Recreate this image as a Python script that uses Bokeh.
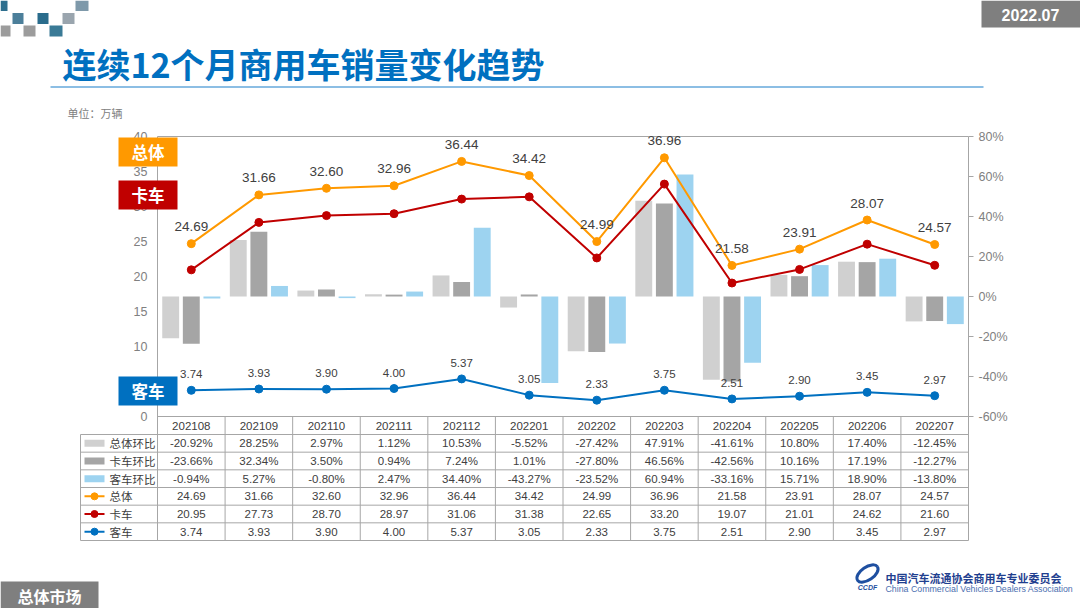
import numpy as np
from bokeh.plotting import figure
from bokeh.models import Range1d, LinearAxis, FixedTicker, PrintfTickFormatter
from bokeh.core.properties import value
from bokeh.embed import file_html
from bokeh.resources import INLINE

# ---------------- data ----------------
months = ["202108", "202109", "202110", "202111", "202112", "202201",
          "202202", "202203", "202204", "202205", "202206", "202207"]
total_mom = [-20.92, 28.25, 2.97, 1.12, 10.53, -5.52, -27.42, 47.91, -41.61, 10.80, 17.40, -12.45]
truck_mom = [-23.66, 32.34, 3.50, 0.94, 7.24, 1.01, -27.80, 46.56, -42.56, 10.16, 17.19, -12.27]
bus_mom = [-0.94, 5.27, -0.80, 2.47, 34.40, -43.27, -23.52, 60.94, -33.16, 15.71, 18.90, -13.80]
total = [24.69, 31.66, 32.60, 32.96, 36.44, 34.42, 24.99, 36.96, 21.58, 23.91, 28.07, 24.57]
truck = [20.95, 27.73, 28.70, 28.97, 31.06, 31.38, 22.65, 33.20, 19.07, 21.01, 24.62, 21.60]
bus = [3.74, 3.93, 3.90, 4.00, 5.37, 3.05, 2.33, 3.75, 2.51, 2.90, 3.45, 2.97]
row_names = ["总体环比", "卡车环比", "客车环比", "总体", "卡车", "客车"]
series_names = ["总体", "卡车", "客车"]
left_ticks = [0, 5, 10, 15, 20, 25, 30, 35, 40]
right_ticks = [-60, -40, -20, 0, 20, 40, 60, 80]
title_text = "连续12个月商用车销量变化趋势"
unit_text = "单位：万辆"
date_text = "2022.07"
section_text = "总体市场"
org_cn = "中国汽车流通协会商用车专业委员会"
org_en = "China Commercial Vehicles Dealers Association"

# ---------------- styles ----------------
C_TOTAL_MOM, C_TRUCK_MOM, C_BUS_MOM = "#D0D0D0", "#A5A5A5", "#9DD3F0"
C_TOTAL, C_TRUCK, C_BUS = "#FF9900", "#C00000", "#0070C0"
GRID = "#A6A6A6"
TXT = "#404040"
AXC = "#808080"
CJK = value("Noto Sans CJK SC")
NUM = value("Liberation Sans")

W, H = 1080, 608
AXL, AXR = 157, 968   # value axes (page px)
PT = 136              # plot top
Y0 = 416              # page y of value 0 / plot bottom
YP0 = 296             # page y of 0 %
PPU, PPP = 7.0, 2.0   # pixels per unit / per percent
n = len(months)
colw = (AXR - AXL) / n
TB_HEAD = 434         # bottom of table header row
TB_BOT = 540          # table bottom
rh = (TB_BOT - TB_HEAD) / len(row_names)
TB_LEFT = 80


def dx(px):
    return (px - AXL) / colw - 0.5


def dy(py):
    return (Y0 - py) / PPU


def pct(py):
    return (YP0 - py) / PPP


def sw(px):
    return px / colw


def sh(px):
    return px / PPU


idx = np.arange(n)

p = figure(width=W, height=H, output_backend="svg", toolbar_location=None,
           x_range=Range1d(dx(0), dx(W)), y_range=Range1d(dy(H), dy(0)),
           x_axis_location=None, y_axis_location=None,
           min_border_left=0, min_border_right=0, min_border_top=0, min_border_bottom=0)
p.outline_line_color = None
p.xgrid.visible = False
p.ygrid.visible = False
p.extra_y_ranges = {"pct": Range1d(pct(H), pct(0))}

# ---------------- header decorations ----------------
sq_l = [0, 75, 12, 37, 62, 0, 23, 49]
sq_r = [7, 88, 23, 48, 74, 10, 35, 62]
sq_t = [0, 0, 12.5, 12.5, 12.5, 25, 25, 25]
sq_b = [10.5, 10.5, 23.5, 23.5, 23.5, 36, 36, 36]
sq_c = ["#2E6F8E", "#7E99AA", "#4C7F9A", "#2A6C8C", "#9AA5AE", "#9C9C9C", "#9C9C9C", "#3A7A96"]
p.quad(left=[dx(v) for v in sq_l], right=[dx(v) for v in sq_r], top=[dy(v) for v in sq_t],
       bottom=[dy(v) for v in sq_b], fill_color=sq_c, line_color=None)
p.text(x=[dx(62)], y=[dy(63)], text=[title_text], text_font=CJK, text_font_style="bold",
       text_font_size="34px", text_color="#0070C0", text_baseline="middle", text_align="left")
p.segment(x0=[dx(50)], x1=[dx(983)], y0=[dy(86.5)], y1=[dy(86.5)], line_color="#8CBEE4", line_width=2)
p.quad(left=[dx(981)], right=[dx(1080)], top=[dy(0)], bottom=[dy(27)], fill_color="#7F7F7F", line_color=None)
p.text(x=[dx(1030)], y=[dy(14)], text=[date_text], text_font=NUM, text_font_style="bold",
       text_font_size="16px", text_color="white", text_baseline="middle", text_align="center")
p.text(x=[dx(67)], y=[dy(112)], text=[unit_text], text_font=CJK, text_font_size="11px",
       text_color=AXC, text_baseline="middle", text_align="left")

# ---------------- axes ----------------
lax = LinearAxis(fixed_location=-0.5, ticker=FixedTicker(ticks=left_ticks))
rax = LinearAxis(fixed_location=n - 0.5, y_range_name="pct", ticker=FixedTicker(ticks=right_ticks),
                 formatter=PrintfTickFormatter(format="%d%%"))
for ax in (lax, rax):
    ax.axis_line_color = None
    ax.major_tick_line_color = GRID
    ax.minor_tick_line_color = None
    ax.major_tick_in = 0
    ax.major_label_text_font = "Liberation Sans"
    ax.major_label_text_font_size = "12.5px"
    ax.major_label_text_color = AXC
lax.major_tick_out = 0
lax.major_label_standoff = 10
rax.major_tick_out = 5
rax.major_label_standoff = 5
p.add_layout(lax, "left")
p.add_layout(rax, "right")

# plot box and table grid
p.segment(x0=[-0.5, n - 0.5], x1=[-0.5, n - 0.5], y0=[dy(PT)] * 2, y1=[dy(TB_BOT)] * 2,
          line_color=GRID, line_width=1)
p.segment(x0=[-0.5], x1=[n - 0.5], y0=[left_ticks[-1]], y1=[left_ticks[-1]], line_color=GRID, line_width=1)
p.segment(x0=[-0.5], x1=[n - 0.5], y0=[0], y1=[0], line_color=GRID, line_width=1)
hy = [dy(TB_HEAD + k * rh) for k in range(len(row_names) + 1)]
p.segment(x0=[dx(TB_LEFT)] * len(hy), x1=[n - 0.5] * len(hy), y0=hy, y1=hy, line_color=GRID, line_width=1)
vx = [k - 0.5 for k in range(1, n)]
p.segment(x0=vx, x1=vx, y0=[0] * len(vx), y1=[dy(TB_BOT)] * len(vx), line_color=GRID, line_width=1)
p.segment(x0=[dx(TB_LEFT)], x1=[dx(TB_LEFT)], y0=[dy(TB_HEAD)], y1=[dy(TB_BOT)], line_color=GRID, line_width=1)

# bars (right axis, percent)
bw = 0.25
off = 0.305
p.vbar(x=idx - off, top=total_mom, bottom=0, width=bw, y_range_name="pct", fill_color=C_TOTAL_MOM, line_color=None)
p.vbar(x=idx, top=truck_mom, bottom=0, width=bw, y_range_name="pct", fill_color=C_TRUCK_MOM, line_color=None)
p.vbar(x=idx + off, top=bus_mom, bottom=0, width=bw, y_range_name="pct", fill_color=C_BUS_MOM, line_color=None)

# lines
for vals, col in ((total, C_TOTAL), (truck, C_TRUCK), (bus, C_BUS)):
    p.line(idx, vals, line_color=col, line_width=2)
    p.scatter(idx, vals, marker="circle", size=8, fill_color=col, line_color=col)

p.text(x=idx, y=total, text=[f"{v:.2f}" for v in total], y_offset=-17, text_font=NUM,
       text_font_size="13.5px", text_color=TXT, text_align="center", text_baseline="middle")
p.text(x=idx, y=bus, text=[f"{v:.2f}" for v in bus], y_offset=-16, text_font=NUM,
       text_font_size="11.5px", text_color=TXT, text_align="center", text_baseline="middle")

# series tags
tag_cy = [151.5, 194.5, 390.5]
tag_cols = [C_TOTAL, C_TRUCK, C_BUS]
p.quad(left=[dx(118)] * 3, right=[dx(177)] * 3, top=[dy(c - 14.5) for c in tag_cy],
       bottom=[dy(c + 14.5) for c in tag_cy], fill_color=tag_cols, line_color=None, level="overlay")
p.text(x=[dx(147.5)] * 3, y=[dy(c) for c in tag_cy], text=series_names, text_font=CJK,
       text_font_style="bold", text_font_size="16.5px", text_color="white",
       text_align="center", text_baseline="middle", level="overlay")

# table
p.text(x=idx, y=[dy((Y0 + TB_HEAD) / 2)] * n, text=months, text_font=NUM, text_font_size="11.5px",
       text_color=TXT, text_align="center", text_baseline="middle")
rows = [total_mom, truck_mom, bus_mom, total, truck, bus]
for r, vals in enumerate(rows):
    cy = dy(TB_HEAD + rh * (r + 0.5))
    txt = [f"{v:.2f}%" for v in vals] if r < 3 else [f"{v:.2f}" for v in vals]
    p.text(x=idx, y=[cy] * n, text=txt, text_font=NUM, text_font_size="11.5px",
           text_color=TXT, text_align="center", text_baseline="middle")

row_cy = [dy(TB_HEAD + rh * (r + 0.5)) for r in range(len(row_names))]
p.text(x=[dx(109)] * len(row_names), y=row_cy, text=row_names, text_font=CJK, text_font_size="11.5px",
       text_color=TXT, text_align="left", text_baseline="middle")
bar_cols = [C_TOTAL_MOM, C_TRUCK_MOM, C_BUS_MOM]
p.quad(left=[dx(84)] * 3, right=[dx(104)] * 3, top=[c + sh(3.5) for c in row_cy[:3]],
       bottom=[c - sh(3.5) for c in row_cy[:3]], fill_color=bar_cols, line_color=None)
p.segment(x0=[dx(84)] * 3, x1=[dx(104)] * 3, y0=row_cy[3:], y1=row_cy[3:], line_color=tag_cols, line_width=2)
p.scatter(x=[dx(94)] * 3, y=row_cy[3:], marker="circle", size=7, fill_color=tag_cols, line_color=tag_cols)

# ---------------- footer ----------------
p.quad(left=[dx(0)], right=[dx(98)], top=[dy(581)], bottom=[dy(608)], fill_color="#7F7F7F", line_color=None)
p.text(x=[dx(49)], y=[dy(595)], text=[section_text], text_font=CJK, text_font_style="bold",
       text_font_size="16px", text_color="white", text_align="center", text_baseline="middle")
p.ellipse(x=[dx(867)], y=[dy(573)], width=24, height=13, width_units="screen", height_units="screen",
          angle=0.6, fill_color=None, line_color="#1E4FA0", line_width=3)
p.text(x=[dx(867)], y=[dy(587)], text=["CCDF"], text_font=NUM, text_font_style="bold italic",
       text_font_size="7px", text_color="#1E4FA0", text_align="center", text_baseline="middle")
p.text(x=[dx(885)], y=[dy(577)], text=[org_cn], text_font=CJK, text_font_style="bold",
       text_font_size="11px", text_color="#1F3F8F", text_align="left", text_baseline="middle")
p.text(x=[dx(885)], y=[dy(588)], text=[org_en], text_font=NUM, text_font_size="8.8px",
       text_color="#4A6EB0", text_align="left", text_baseline="middle")

open("out.html", "w").write(file_html(p, INLINE))
